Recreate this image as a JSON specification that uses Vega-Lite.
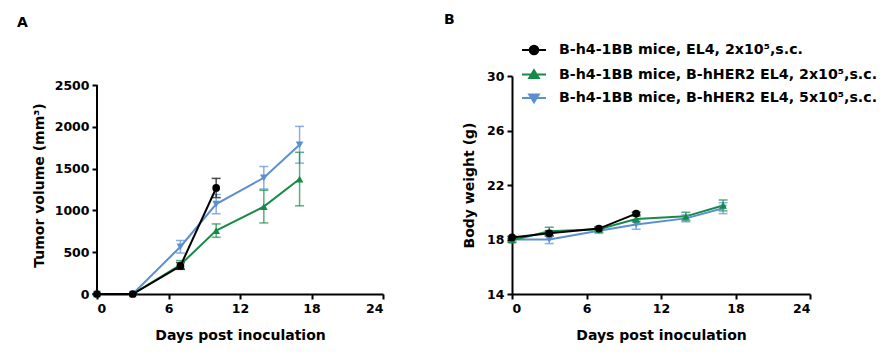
{
  "$schema": "https://vega.github.io/schema/vega-lite/v6.json",
  "padding": {"left": 17, "top": 13, "right": 0, "bottom": 0},
  "background": "white",
  "datasets": {
    "tumor": [
      {"series": "B-h4-1BB mice, B-hHER2 EL4, 5x10⁵,s.c.", "day": 0, "value": 0, "err": 0},
      {"series": "B-h4-1BB mice, B-hHER2 EL4, 5x10⁵,s.c.", "day": 3, "value": 0, "err": 0},
      {"series": "B-h4-1BB mice, B-hHER2 EL4, 5x10⁵,s.c.", "day": 7, "value": 565, "err": 75},
      {"series": "B-h4-1BB mice, B-hHER2 EL4, 5x10⁵,s.c.", "day": 10, "value": 1075, "err": 115},
      {"series": "B-h4-1BB mice, B-hHER2 EL4, 5x10⁵,s.c.", "day": 14, "value": 1390, "err": 135},
      {"series": "B-h4-1BB mice, B-hHER2 EL4, 5x10⁵,s.c.", "day": 17, "value": 1785, "err": 220},
      {"series": "B-h4-1BB mice, B-hHER2 EL4, 2x10⁵,s.c.", "day": 0, "value": 0, "err": 0},
      {"series": "B-h4-1BB mice, B-hHER2 EL4, 2x10⁵,s.c.", "day": 3, "value": 0, "err": 0},
      {"series": "B-h4-1BB mice, B-hHER2 EL4, 2x10⁵,s.c.", "day": 7, "value": 350, "err": 50},
      {"series": "B-h4-1BB mice, B-hHER2 EL4, 2x10⁵,s.c.", "day": 10, "value": 758, "err": 80},
      {"series": "B-h4-1BB mice, B-hHER2 EL4, 2x10⁵,s.c.", "day": 14, "value": 1045, "err": 195},
      {"series": "B-h4-1BB mice, B-hHER2 EL4, 2x10⁵,s.c.", "day": 17, "value": 1375, "err": 320},
      {"series": "B-h4-1BB mice, EL4, 2x10⁵,s.c.", "day": 0, "value": 0, "err": 0},
      {"series": "B-h4-1BB mice, EL4, 2x10⁵,s.c.", "day": 3, "value": 0, "err": 0},
      {"series": "B-h4-1BB mice, EL4, 2x10⁵,s.c.", "day": 7, "value": 335, "err": 40},
      {"series": "B-h4-1BB mice, EL4, 2x10⁵,s.c.", "day": 10, "value": 1268, "err": 115}
    ],
    "weight": [
      {"series": "B-h4-1BB mice, B-hHER2 EL4, 5x10⁵,s.c.", "day": 0, "value": 18.0, "err": 0.2},
      {"series": "B-h4-1BB mice, B-hHER2 EL4, 5x10⁵,s.c.", "day": 3, "value": 18.0, "err": 0.3},
      {"series": "B-h4-1BB mice, B-hHER2 EL4, 5x10⁵,s.c.", "day": 7, "value": 18.65, "err": 0.2},
      {"series": "B-h4-1BB mice, B-hHER2 EL4, 5x10⁵,s.c.", "day": 10, "value": 19.1, "err": 0.35},
      {"series": "B-h4-1BB mice, B-hHER2 EL4, 5x10⁵,s.c.", "day": 14, "value": 19.55, "err": 0.25},
      {"series": "B-h4-1BB mice, B-hHER2 EL4, 5x10⁵,s.c.", "day": 17, "value": 20.3, "err": 0.4},
      {"series": "B-h4-1BB mice, B-hHER2 EL4, 2x10⁵,s.c.", "day": 0, "value": 17.95, "err": 0.15},
      {"series": "B-h4-1BB mice, B-hHER2 EL4, 2x10⁵,s.c.", "day": 3, "value": 18.6, "err": 0.3},
      {"series": "B-h4-1BB mice, B-hHER2 EL4, 2x10⁵,s.c.", "day": 7, "value": 18.75, "err": 0.2},
      {"series": "B-h4-1BB mice, B-hHER2 EL4, 2x10⁵,s.c.", "day": 10, "value": 19.5, "err": 0.2},
      {"series": "B-h4-1BB mice, B-hHER2 EL4, 2x10⁵,s.c.", "day": 14, "value": 19.7, "err": 0.3},
      {"series": "B-h4-1BB mice, B-hHER2 EL4, 2x10⁵,s.c.", "day": 17, "value": 20.5, "err": 0.4},
      {"series": "B-h4-1BB mice, EL4, 2x10⁵,s.c.", "day": 0, "value": 18.15, "err": 0.1},
      {"series": "B-h4-1BB mice, EL4, 2x10⁵,s.c.", "day": 3, "value": 18.45, "err": 0.2},
      {"series": "B-h4-1BB mice, EL4, 2x10⁵,s.c.", "day": 7, "value": 18.8, "err": 0.1},
      {"series": "B-h4-1BB mice, EL4, 2x10⁵,s.c.", "day": 10, "value": 19.9, "err": 0.1}
    ]
  },
  "config": {
    "font": "DejaVu Sans",
    "view": {"stroke": null},
    "axis": {
      "grid": false,
      "domainColor": "black",
      "domainWidth": 2,
      "tickColor": "black",
      "tickWidth": 2,
      "tickSize": 5,
      "labelFont": "DejaVu Sans",
      "labelFontSize": 12.5,
      "labelFontWeight": "bold",
      "labelColor": "black",
      "labelPadding": 3,
      "titleFont": "DejaVu Sans",
      "titleFontSize": 14,
      "titleFontWeight": "bold",
      "titleColor": "black"
    },
    "title": {"font": "DejaVu Sans", "fontSize": 14, "fontWeight": "bold", "color": "black", "anchor": "start", "frame": "group", "baseline": "alphabetic"}
  },
  "hconcat": [
    {
      "width": 286,
      "height": 218,
      "title": {"text": "A", "dx": -80, "offset": 46},
      "data": {"name": "tumor"},
      "encoding": {
        "x": {"field": "day", "type": "quantitative", "scale": {"domain": [0, 24], "nice": false}, "axis": {"values": [0, 6, 12, 18, 24], "title": "Days post inoculation", "titlePadding": 14}},
        "color": {
          "field": "series", "type": "nominal",
          "scale": {"domain": ["B-h4-1BB mice, EL4, 2x10⁵,s.c.", "B-h4-1BB mice, B-hHER2 EL4, 2x10⁵,s.c.", "B-h4-1BB mice, B-hHER2 EL4, 5x10⁵,s.c."], "range": ["#000000", "#178a48", "#5b8fd1"]},
          "legend": {
            "orient": "none",
            "legendX": 424,
            "legendY": -39,
            "title": null,
            "labelFont": "DejaVu Sans",
            "labelFontSize": 14.2,
            "labelFontWeight": "bold",
            "labelColor": "black",
            "labelLimit": 600,
            "labelOffset": 12,
            "symbolSize": 576,
            "symbolStrokeWidth": 2,
            "rowPadding": 2.5,
            "padding": 0,
            "encode": {
              "symbols": {
                "update": {
                  "shape": {"signal": "datum.value === 'B-h4-1BB mice, EL4, 2x10⁵,s.c.' ? 'M-1,0H1M-0.36,0A0.36,0.36 0 1,0 0.36,0A0.36,0.36 0 1,0 -0.36,0Z' : datum.value === 'B-h4-1BB mice, B-hHER2 EL4, 2x10⁵,s.c.' ? 'M-1,0H1M0,-0.36L0.4,0.3L-0.4,0.3Z' : 'M-1,0H1M0,0.36L0.4,-0.3L-0.4,-0.3Z'"},
                  "fill": {"signal": "scale('color', datum.value)"},
                  "stroke": {"signal": "scale('color', datum.value)"},
                  "strokeWidth": {"value": 2},
                  "opacity": {"value": 1}
                }
              }
            }
          }
        }
      },
      "layer": [
        {
          "mark": {"type": "rule", "strokeWidth": 2, "color": "black"},
          "encoding": {
            "x": {"datum": 0, "type": "quantitative"},
            "y": {"datum": 0, "type": "quantitative"},
            "y2": {"datum": 2500},
            "color": {"value": "black"}
          }
        },
        {
          "mark": {"type": "errorbar", "ticks": {"size": 9}, "thickness": 1.5, "opacity": 0.7},
          "encoding": {
            "y": {"field": "value", "type": "quantitative", "scale": {"domain": [0, 2607.7], "nice": false}, "axis": {"values": [0, 500, 1000, 1500, 2000, 2500], "format": "d", "domain": false, "title": "Tumor volume (mm³)", "titlePadding": 8}},
            "yError": {"field": "err"}
          }
        },
        {
          "mark": {"type": "line", "strokeWidth": 2},
          "encoding": {"y": {"field": "value", "type": "quantitative"}}
        },
        {
          "mark": {"type": "point", "filled": true, "opacity": 1, "size": 60},
          "encoding": {
            "y": {"field": "value", "type": "quantitative"},
            "shape": {"field": "series", "type": "nominal", "scale": {"range": ["triangle-up", "triangle-down", "circle"]}, "legend": null}
          }
        }
      ]
    },
    {
      "width": 298,
      "height": 218,
      "title": {"text": "B", "dx": -68, "offset": 43},
      "data": {"name": "weight"},
      "encoding": {
        "x": {"field": "day", "type": "quantitative", "scale": {"domain": [0, 24], "nice": false}, "axis": {"values": [0, 6, 12, 18, 24], "title": "Days post inoculation", "titlePadding": 14}},
        "color": {"field": "series", "type": "nominal", "legend": null}
      },
      "layer": [
        {
          "mark": {"type": "errorbar", "ticks": {"size": 9}, "thickness": 1.5, "opacity": 0.7},
          "encoding": {
            "y": {"field": "value", "type": "quantitative", "scale": {"domain": [14, 30], "nice": false, "zero": false}, "axis": {"values": [14, 18, 22, 26, 30], "title": "Body weight (g)", "titlePadding": 10}},
            "yError": {"field": "err"}
          }
        },
        {
          "mark": {"type": "line", "strokeWidth": 2},
          "encoding": {"y": {"field": "value", "type": "quantitative"}}
        },
        {
          "mark": {"type": "point", "filled": true, "opacity": 1, "size": 60},
          "encoding": {
            "y": {"field": "value", "type": "quantitative"},
            "shape": {"field": "series", "type": "nominal", "legend": null}
          }
        }
      ]
    }
  ],
  "spacing": 60,
  "resolve": {"scale": {"y": "independent"}}
}
